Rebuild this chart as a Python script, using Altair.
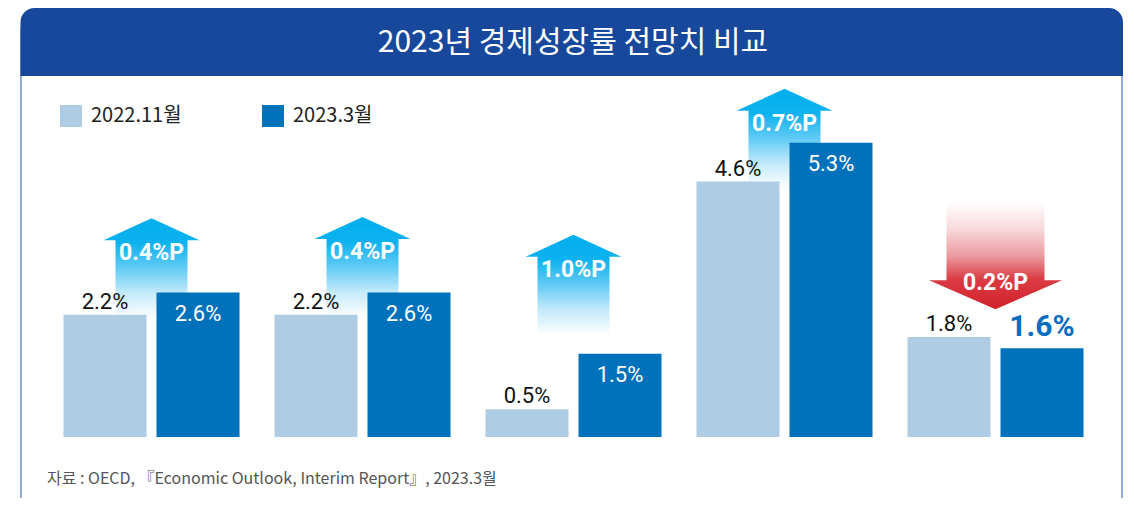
import altair as alt
import pandas as pd

# ---------------- data ----------------
categories = ["세계", "G20", "미국", "중국", "한국"]
series = ["2022.11월", "2023.3월"]
nov2022 = [2.2, 2.2, 0.5, 4.6, 1.8]
mar2023 = [2.6, 2.6, 1.5, 5.3, 1.6]
arrow_tip = [3.94, 3.96, 3.64, 6.27, 2.30]   # arrow tip level, in % units
colors = ["#AECCE3", "#0071BB"]

title_text = "2023년 경제성장률 전망치 비교"
source_text = "자료 : OECD, 『Economic Outlook, Interim Report』, 2023.3월"

# ---------------- tables ----------------
rows = []
for c, o, n in zip(categories, nov2022, mar2023):
    rows.append({"cat": c, "series": series[0], "value": o, "label": f"{o:.1f}%", "kind": "old"})
    rows.append({"cat": c, "series": series[1], "value": n, "label": f"{n:.1f}%",
                 "kind": "new_down" if n < o else "new"})
bars_df = pd.DataFrame(rows)

arrows_df = pd.DataFrame({
    "cat": categories,
    "tip": arrow_tip,
    "label": [f"{abs(n - o):.1f}%P" for o, n in zip(nov2022, mar2023)],
    "dir": ["up" if n > o else "down" for o, n in zip(nov2022, mar2023)],
})
one = pd.DataFrame({"k": [0]})

KR = "Noto Sans CJK KR"
NUM = "Roboto, 'Noto Sans', sans-serif"

W, H = 1055, 361

xenc = alt.X("cat:N", sort=categories,
             scale=alt.Scale(domain=categories, paddingInner=0, paddingOuter=0),
             axis=alt.Axis(title=None, labelAngle=0, ticks=False, domainColor="#000000",
                           domainWidth=1.5, labelFont=KR, labelFontSize=17,
                           labelColor="#222222", labelPadding=6))
xoff = alt.XOffset("series:N", sort=series,
                   scale=alt.Scale(domain=series, paddingInner=0.1075, paddingOuter=0.188))
yscale = alt.Scale(domain=[0, 6.5], nice=False, zero=True)

# ---------------- decorations ----------------
panel = alt.Chart(one).mark_rect(fill="white", stroke="#6E8FCB", strokeWidth=1.5,
                                 cornerRadius=14).encode(
    x=alt.value(-25), x2=alt.value(1076), y=alt.value(-60), y2=alt.value(440))
banner = alt.Chart(one).mark_rect(fill="#17489C", cornerRadiusTopLeft=14,
                                  cornerRadiusTopRight=14).encode(
    x=alt.value(-25.5), x2=alt.value(1077), y=alt.value(-68), y2=alt.value(0))
title = alt.Chart(one).mark_text(text=title_text, font=KR, fontSize=30, fontWeight="normal",
                                 color="white", align="center", baseline="middle").encode(
    x=alt.value(527), y=alt.value(-33))
source = alt.Chart(one).mark_text(text=source_text, font=KR, fontSize=16, color="#555555",
                                  align="left", baseline="middle").encode(
    x=alt.value(1), y=alt.value(403))

# ---------------- arrows ----------------
path_up = "M0,-1.042L1,-0.583L0.75,-0.583L0.75,1.042L-0.75,1.042L-0.75,-0.583L-1,-0.583Z"
path_down = "M-0.737,-0.805L0.737,-0.805L0.737,0.369L1,0.369L0,0.805L-1,0.369L-0.737,0.369Z"

grad_up = alt.LinearGradient(gradient="linear", x1=0, y1=0, x2=0, y2=1, stops=[
    alt.GradientStop(color="#00AEEF", offset=0),
    alt.GradientStop(color="#0EB2EF", offset=0.25),
    alt.GradientStop(color="#62CBF4", offset=0.5),
    alt.GradientStop(color="#C4EAFA", offset=0.75),
    alt.GradientStop(color="#FFFFFF", offset=1),
])
grad_down = alt.LinearGradient(gradient="linear", x1=0, y1=0, x2=0, y2=1, stops=[
    alt.GradientStop(color="#FFFFFF", offset=0),
    alt.GradientStop(color="#F7D9DB", offset=0.25),
    alt.GradientStop(color="#EB9AA0", offset=0.5),
    alt.GradientStop(color="#DA3C44", offset=0.72),
    alt.GradientStop(color="#D2202A", offset=1),
])

arrows = alt.Chart(arrows_df)
up_arrow = arrows.transform_filter(alt.datum.dir == "up").mark_point(
    shape=path_up, size=9216, filled=True, fill=grad_up, strokeWidth=0, opacity=1,
    yOffset=50).encode(x=xenc, y=alt.Y("tip:Q", scale=yscale, axis=None))
down_arrow = arrows.transform_filter(alt.datum.dir == "down").mark_point(
    shape=path_down, size=17689, filled=True, fill=grad_down, strokeWidth=0, opacity=1,
    yOffset=-53.5).encode(x=xenc, y=alt.Y("tip:Q", scale=yscale, axis=None))
up_label = arrows.transform_filter(alt.datum.dir == "up").mark_text(
    font=NUM, fontWeight="bold", fontSize=23, color="white", baseline="middle",
    dy=35).encode(x=xenc, y=alt.Y("tip:Q", scale=yscale, axis=None), text="label:N")
down_label = arrows.transform_filter(alt.datum.dir == "down").mark_text(
    font=NUM, fontWeight="bold", fontSize=23, color="white", baseline="middle",
    dy=-26).encode(x=xenc, y=alt.Y("tip:Q", scale=yscale, axis=None), text="label:N")

# ---------------- bars ----------------
base = alt.Chart(bars_df)
bars = base.mark_bar().encode(
    x=xenc, xOffset=xoff,
    y=alt.Y("value:Q", scale=yscale, axis=None),
    color=alt.Color("series:N", sort=series,
                    scale=alt.Scale(domain=series, range=colors),
                    legend=alt.Legend(title=None, orient="none", legendX=14, legendY=29,
                                      direction="horizontal", symbolType="square",
                                      symbolSize=484, symbolStrokeWidth=0,
                                      labelFont=KR, labelFontSize=20, labelColor="#222222",
                                      labelOffset=9, columnPadding=80, padding=0)),
)
old_lab = base.transform_filter(alt.datum.kind == "old").mark_text(
    font=NUM, fontSize=22, color="#111111", baseline="middle", dy=-13).encode(
    x=xenc, xOffset=xoff, y=alt.Y("value:Q", scale=yscale, axis=None), text="label:N")
new_lab = base.transform_filter(alt.datum.kind == "new").mark_text(
    font=NUM, fontSize=22, color="white", baseline="middle", dy=21).encode(
    x=xenc, xOffset=xoff, y=alt.Y("value:Q", scale=yscale, axis=None), text="label:N")
down_lab = base.transform_filter(alt.datum.kind == "new_down").mark_text(
    font=NUM, fontWeight="bold", fontSize=30, color="#0A6DC0", baseline="middle",
    dy=-21).encode(
    x=xenc, xOffset=xoff, y=alt.Y("value:Q", scale=yscale, axis=None), text="label:N")

chart = alt.layer(
    panel, banner, title, up_arrow, down_arrow, bars,
    up_label, down_label, old_lab, new_lab, down_lab, source
).properties(
    width=W, height=H,
    autosize=alt.AutoSizeParams(type="none"),
    padding={"left": 38, "top": 68, "right": 25, "bottom": 61},
    background="white",
).configure_view(stroke=None)

chart.save("out.html", embed_options={"renderer": "svg", "actions": False})
